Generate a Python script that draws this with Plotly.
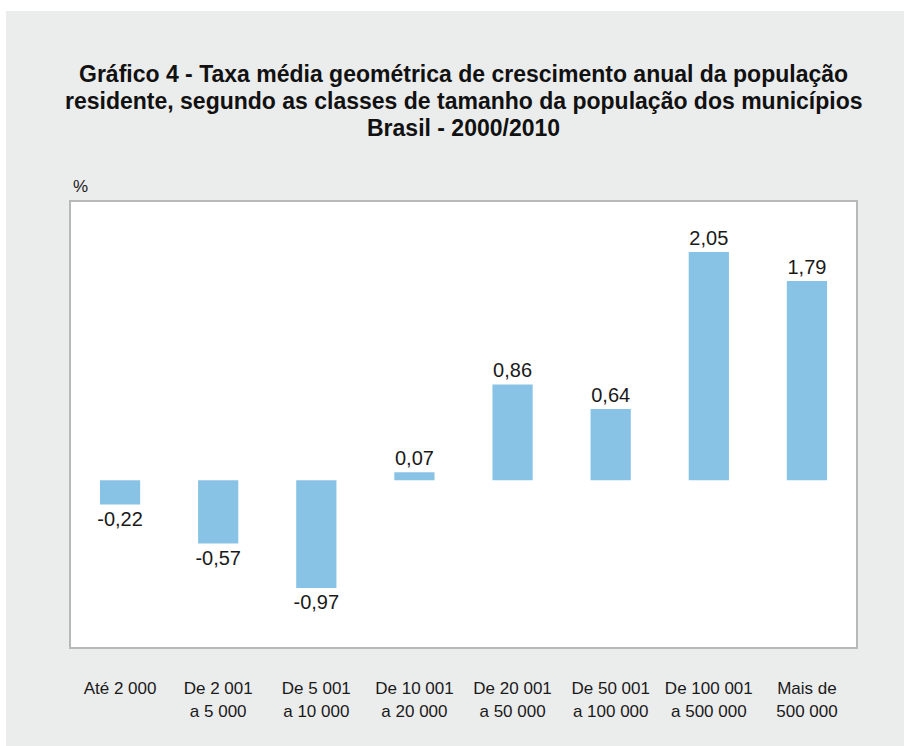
import plotly.graph_objects as go

categories = ["Até 2 000", "De 2 001<br>a 5 000", "De 5 001<br>a 10 000", "De 10 001<br>a 20 000",
              "De 20 001<br>a 50 000", "De 50 001<br>a 100 000", "De 100 001<br>a 500 000", "Mais de<br>500 000"]
values = [-0.22, -0.57, -0.97, 0.07, 0.86, 0.64, 2.05, 1.79]

title_lines = ["Gráfico 4 - Taxa média geométrica de crescimento anual da população",
               "residente, segundo as classes de tamanho da população dos municípios",
               "Brasil - 2000/2010"]

W, H = 904, 746
L, R, T, B = 71, 48, 202, 99
pw, ph = W - L - R, H - T - B
FONT = "Liberation Sans, Arial, sans-serif"

def px_x(p):
    return (p - L) / pw

def px_y(p):
    return (H - B - p) / ph

fig = go.Figure()
fig.add_trace(go.Bar(
    x=list(range(len(categories))), y=values,
    width=0.41,
    marker=dict(color="#88c3e6", line=dict(width=0)),
    texttemplate="%{y:.2f}", textposition="outside", constraintext="none",
    textfont=dict(family=FONT, size=20, color="#1a1a1a"),
    cliponaxis=False,
))

annotations = [dict(text="%", x=0, y=px_y(186), xref="paper", yref="paper",
                    xanchor="left", yanchor="middle", showarrow=False,
                    font=dict(family=FONT, size=17, color="#1a1a1a"))]
for i, line in enumerate(title_lines):
    annotations.append(dict(text="<b>" + line + "</b>", x=0.5, y=px_y(74 + 27 * i),
                            xref="paper", yref="paper", xanchor="center", yanchor="middle",
                            showarrow=False, font=dict(family=FONT, size=23, color="#111111")))

fig.update_layout(
    width=W, height=H,
    margin=dict(l=L, r=R, t=T, b=B),
    paper_bgcolor="#ebecec", plot_bgcolor="#ffffff",
    separators=",.",
    showlegend=False,
    xaxis=dict(range=[-0.5, len(categories) - 0.5], tickvals=list(range(len(categories))),
               ticktext=categories, showgrid=False, zeroline=False,
               showline=True, linecolor="#b8b8b8", linewidth=2, mirror=True,
               ticks="", ticklabelstandoff=25,
               tickfont=dict(family=FONT, size=17, color="#1a1a1a")),
    yaxis=dict(range=[-1.5, 2.5], showgrid=False, zeroline=False, showticklabels=False,
               showline=True, linecolor="#b8b8b8", linewidth=2, mirror=True, ticks=""),
    annotations=annotations,
    shapes=[
        dict(type="rect", xref="paper", yref="paper", x0=px_x(-5), x1=px_x(W + 5),
             y0=px_y(11), y1=px_y(-5), fillcolor="#ffffff", line=dict(width=0), layer="above"),
        dict(type="rect", xref="paper", yref="paper", x0=px_x(-5), x1=px_x(6),
             y0=px_y(H + 5), y1=px_y(-5), fillcolor="#ffffff", line=dict(width=0), layer="above"),
    ],
)

fig.write_html("out.html", config={"displayModeBar": False},
               post_script="document.body.style.margin='0';document.body.style.overflow='hidden';")
